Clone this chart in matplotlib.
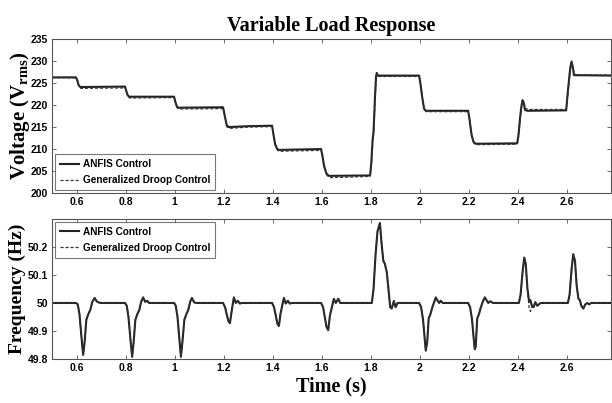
import matplotlib
matplotlib.use("Agg")
import matplotlib.pyplot as plt

# ---------------- data ----------------
# Voltage, ANFIS control (solid)
t_v_anfis = [0.50, 0.598, 0.604, 0.608, 0.615, 0.798, 0.803, 0.809, 0.815,
             0.998, 1.003, 1.009, 1.015, 1.198, 1.205, 1.213, 1.222, 1.30, 1.398,
             1.403, 1.410, 1.418, 1.425, 1.598, 1.603, 1.610, 1.620, 1.630,
             1.798, 1.803, 1.808, 1.812, 1.818, 1.822, 1.825, 1.830, 1.998,
             2.003, 2.010, 2.018, 2.025, 2.198, 2.203, 2.212, 2.220, 2.230,
             2.398, 2.403, 2.410, 2.415, 2.420, 2.425, 2.430, 2.440, 2.598,
             2.603, 2.610, 2.615, 2.620, 2.625, 2.630, 2.780]
v_anfis = [226.3, 226.3, 225.5, 224.6, 224.1, 224.2, 223.2, 222.2, 221.9,
           221.9, 220.8, 219.7, 219.4, 219.5, 217.5, 215.4, 215.0, 215.2, 215.3,
           213.5, 211.2, 210.1, 209.8, 210.0, 208.6, 206.2, 204.4, 203.9,
           204.0, 207.0, 212.0, 214.0, 222.0, 226.4, 227.3, 226.7, 226.7,
           225.0, 222.0, 219.2, 218.7, 218.7, 217.0, 213.2, 211.6, 211.2,
           211.3, 213.0, 217.2, 219.6, 221.1, 220.5, 218.9, 218.7, 218.8,
           222.0, 226.0, 228.6, 229.9, 228.6, 226.8, 226.7]

# Voltage, generalized droop control (dashed)
t_v_droop = [0.50, 0.598, 0.605, 0.610, 0.618, 0.798, 0.804, 0.810, 0.818,
             0.998, 1.004, 1.010, 1.018, 1.198, 1.206, 1.214, 1.225, 1.30, 1.398,
             1.404, 1.411, 1.420, 1.428, 1.598, 1.604, 1.611, 1.622, 1.635, 1.70,
             1.798, 1.804, 1.809, 1.813, 1.819, 1.823, 1.826, 1.832, 1.998,
             2.004, 2.011, 2.019, 2.027, 2.198, 2.204, 2.213, 2.221, 2.232,
             2.398, 2.404, 2.411, 2.416, 2.421, 2.426, 2.432, 2.445, 2.598,
             2.604, 2.611, 2.616, 2.621, 2.626, 2.632, 2.640, 2.780]
v_droop = [226.2, 226.2, 225.2, 224.2, 223.8, 223.9, 222.9, 221.9, 221.6,
           221.7, 220.5, 219.4, 219.1, 219.2, 217.2, 215.0, 214.7, 215.0, 215.1,
           213.2, 210.9, 209.7, 209.5, 209.7, 208.2, 205.8, 204.0, 203.5, 203.6,
           203.8, 206.8, 211.8, 213.8, 221.8, 226.2, 227.0, 226.5, 226.5,
           224.8, 221.8, 219.0, 218.5, 218.5, 216.8, 213.0, 211.3, 211.0,
           211.1, 212.8, 217.0, 219.4, 220.8, 220.6, 219.2, 219.0, 219.0,
           221.8, 225.8, 228.4, 229.6, 228.5, 227.0, 226.9, 226.8]

# Frequency, ANFIS control (solid)
t_f_anfis = [0.50, 0.598, 0.605, 0.612, 0.620, 0.627, 0.633, 0.640, 0.648,
             0.656, 0.665, 0.674, 0.682, 0.690, 0.700,
             0.798, 0.805, 0.812, 0.820, 0.827, 0.833, 0.840, 0.848,
             0.856, 0.864, 0.872, 0.880, 0.888, 0.896, 0.905,
             0.998, 1.005, 1.012, 1.020, 1.026, 1.032, 1.040, 1.048,
             1.056, 1.064, 1.071, 1.080, 1.090,
             1.198, 1.206, 1.214, 1.220, 1.226, 1.232, 1.242, 1.250, 1.258, 1.266, 1.275,
             1.398, 1.406, 1.414, 1.420, 1.426, 1.432, 1.446, 1.454, 1.462, 1.470, 1.480,
             1.598, 1.606, 1.614, 1.620, 1.627, 1.634, 1.650, 1.658, 1.668, 1.676, 1.686,
             1.805, 1.812, 1.820, 1.828, 1.838, 1.846, 1.852, 1.858, 1.866, 1.874,
             1.880, 1.886, 1.895, 1.902, 1.910, 1.920,
             1.998, 2.006, 2.014, 2.020, 2.025, 2.031, 2.037, 2.044, 2.052, 2.060,
             2.066, 2.072, 2.080, 2.086, 2.095,
             2.198, 2.206, 2.214, 2.220, 2.225, 2.229, 2.235, 2.242, 2.250, 2.258,
             2.266, 2.273, 2.280, 2.288, 2.300,
             2.405, 2.412, 2.420, 2.427, 2.433, 2.440, 2.447, 2.452, 2.458, 2.465,
             2.472, 2.480, 2.486, 2.494, 2.505,
             2.605, 2.612, 2.620, 2.627, 2.634, 2.641, 2.648, 2.654, 2.660, 2.668,
             2.676, 2.684, 2.692, 2.700, 2.780]
f_anfis = [50.0, 50.0, 49.995, 49.96, 49.88, 49.815, 49.86, 49.94, 49.96,
           49.975, 50.005, 50.018, 50.006, 50.002, 50.0,
           50.0, 49.99, 49.95, 49.87, 49.808, 49.86, 49.94, 49.96,
           49.975, 50.005, 50.02, 50.004, 50.008, 50.0, 50.0,
           50.0, 49.99, 49.95, 49.87, 49.808, 49.86, 49.94, 49.96,
           49.975, 50.005, 50.018, 50.002, 50.0,
           50.0, 49.985, 49.955, 49.935, 49.928, 49.965, 50.02, 50.0, 50.008, 49.998, 50.0,
           50.0, 49.985, 49.95, 49.925, 49.918, 49.96, 50.018, 49.998, 50.008, 49.998, 50.0,
           50.0, 49.985, 49.945, 49.915, 49.903, 49.955, 50.015, 50.0, 50.015, 50.0, 50.0,
           50.0, 50.05, 50.17, 50.255, 50.285, 50.2, 50.15, 50.14, 50.11, 50.04,
           49.985, 49.98, 50.007, 49.985, 50.0, 50.0,
           50.0, 49.985, 49.94, 49.88, 49.83, 49.86, 49.945, 49.96, 49.985, 50.005,
           50.02, 50.01, 50.0, 50.008, 50.0,
           50.0, 49.985, 49.94, 49.88, 49.835, 49.845, 49.945, 49.96, 49.985, 50.005,
           50.02, 50.01, 50.0, 50.006, 50.0,
           50.0, 50.03, 50.11, 50.162, 50.14, 50.05, 50.005, 50.01, 49.99, 49.985,
           50.003, 49.99, 49.995, 50.0, 50.0,
           50.0, 50.03, 50.12, 50.174, 50.15, 50.06, 50.015, 50.01, 49.99, 49.98,
           49.995, 50.0, 49.995, 50.0, 50.0]

# Frequency, generalized droop control (dashed) -- nearly identical except near 2.45 s
t_f_droop = t_f_anfis
f_droop = list(f_anfis)
i245 = t_f_droop.index(2.447)
f_droop[i245] = 49.98
f_droop[i245 + 1] = 49.97
f_droop[i245 + 2] = 49.985

# axis settings
v_ticks = [200, 205, 210, 215, 220, 225, 230, 235]
f_ticks = [49.8, 49.9, 50.0, 50.1, 50.2]
f_ticklabels = ["49.8", "49.9", "50", "50.1", "50.2"]
x_ticks = [0.6, 0.8, 1.0, 1.2, 1.4, 1.6, 1.8, 2.0, 2.2, 2.4, 2.6]
x_ticklabels = ["0.6", "0.8", "1", "1.2", "1.4", "1.6", "1.8", "2", "2.2", "2.4", "2.6"]

# ---------------- figure ----------------
fig = plt.figure(figsize=(6.12, 4.03), dpi=100)
ax1 = fig.add_axes([0.085, 0.521, 0.913, 0.382])
ax2 = fig.add_axes([0.085, 0.109, 0.913, 0.348])

tick_font = dict(family=["Liberation Sans Narrow", "Liberation Sans", "DejaVu Sans"],
                 weight="bold", size=7.5)
serif = ["Liberation Serif", "DejaVu Serif"]

for ax in (ax1, ax2):
    ax.set_xlim(0.5, 2.78)
    ax.set_xticks(x_ticks)
    ax.set_xticklabels(x_ticklabels, **tick_font)
    ax.tick_params(direction="in", top=True, right=True, length=3, width=0.6,
                   color="#555555", pad=3)
    for s in ax.spines.values():
        s.set_color("#555555")
        s.set_linewidth(0.8)

ax1.plot(t_v_anfis, v_anfis, color="#222222", lw=1.5, label="ANFIS Control")
ax1.plot(t_v_droop, v_droop, color="#333333", lw=0.9, ls=(0, (2.5, 1.5)),
         label="Generalized Droop Control")
ax1.set_ylim(200, 235)
ax1.set_yticks(v_ticks)
ax1.set_yticklabels([str(v) for v in v_ticks], **tick_font)
ax1.set_ylabel(r"Voltage (V$_{\mathregular{rms}}$)", family=serif, weight="bold",
               size=15, labelpad=-1)
ax1.set_title("Variable Load Response", family=serif, weight="bold", size=14.5, pad=6)

ax2.plot(t_f_anfis, f_anfis, color="#222222", lw=1.5, label="ANFIS Control")
ax2.plot(t_f_droop, f_droop, color="#333333", lw=0.9, ls=(0, (2.5, 1.5)),
         label="Generalized Droop Control")
ax2.set_ylim(49.8, 50.3)
ax2.set_yticks(f_ticks)
ax2.set_yticklabels(f_ticklabels, **tick_font)
ax2.set_ylabel("Frequency (Hz)", family=serif, weight="bold", size=14, labelpad=1)
ax2.set_xlabel("Time (s)", family=serif, weight="bold", size=14.5, labelpad=2)

leg_font = dict(family=["Liberation Sans Narrow", "Liberation Sans", "DejaVu Sans"],
                weight="bold", size=7.2)
for ax, loc in ((ax1, "lower left"), (ax2, "upper left")):
    leg = ax.legend(loc=loc, prop=leg_font, frameon=True, fancybox=False,
                    handlelength=1.9, handletextpad=0.4, borderpad=0.5,
                    labelspacing=0.6, borderaxespad=0.3)
    leg.get_frame().set_edgecolor("#555555")
    leg.get_frame().set_linewidth(0.8)

fig.savefig("out.png", dpi=100)
